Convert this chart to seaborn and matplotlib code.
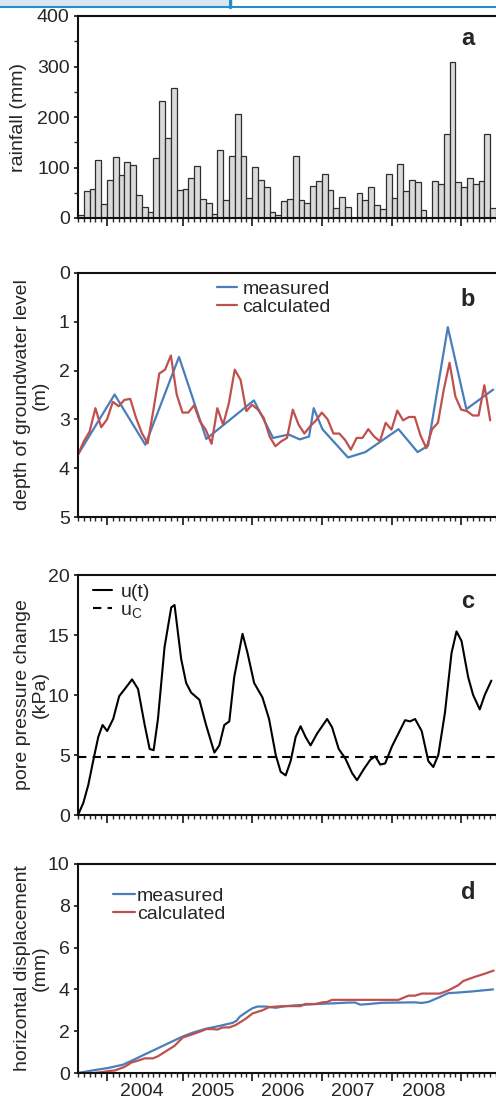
import numpy as np
import pandas as pd
import matplotlib.pyplot as plt
from matplotlib.patches import Rectangle
from matplotlib.lines import Line2D
import seaborn as sns

# monthly rainfall, Aug 2003 - Jul 2009 (mm)
rainfall = [5, 53, 57, 115, 27, 75, 120, 85, 110, 104, 45, 22,
            11, 119, 232, 159, 258, 55, 57, 79, 103, 37, 30, 7,
            135, 36, 123, 206, 123, 40, 101, 75, 62, 12, 5, 33,
            38, 122, 36, 30, 64, 73, 88, 55, 20, 42, 22, 0,
            50, 36, 62, 25, 18, 87, 40, 107, 53, 76, 71, 16,
            0, 74, 67, 167, 309, 71, 61, 79, 68, 73, 166, 20]
rain_month = np.arange(len(rainfall)) + 0.5

# groundwater depth (m)
gw_meas_t = [0, 6.3, 11.6, 17.4, 22.1, 30.3, 33.6, 36.3, 38.2, 39.8, 40.6, 42.1,
             46.5, 49.5, 55.2, 58.5, 60.3, 63.7, 66.9, 71.5]
gw_meas = [3.72, 2.49, 3.52, 1.72, 3.40, 2.61, 3.38, 3.31, 3.41, 3.35, 2.77, 3.20,
           3.78, 3.67, 3.20, 3.67, 3.54, 1.11, 2.79, 2.39]
gw_calc = [3.72, 3.45, 3.25, 2.77, 3.16, 3.00, 2.64, 2.73, 2.60, 2.58, 2.97, 3.28,
           3.49, 2.80, 2.06, 1.98, 1.69, 2.49, 2.86, 2.86, 2.71, 3.04, 3.21, 3.50,
           2.77, 3.11, 2.66, 1.98, 2.19, 2.83, 2.70, 2.80, 2.97, 3.35, 3.55, 3.45,
           3.38, 2.80, 3.11, 3.29, 3.14, 3.02, 2.86, 3.00, 3.29, 3.29, 3.42, 3.62,
           3.38, 3.38, 3.20, 3.35, 3.45, 3.07, 3.21, 2.82, 3.02, 2.95, 2.95, 3.33,
           3.59, 3.20, 3.07, 2.39, 1.84, 2.53, 2.80, 2.83, 2.92, 2.92, 2.30, 3.02]
gw_calc_t = np.arange(len(gw_calc))

# pore pressure change u(t) (kPa)
pp_t = [0, 0.91, 1.77, 2.74, 3.49, 4.23, 5.03, 6.06, 7.09, 8.06, 9.31, 10.34,
        11.49, 12.34, 13.03, 13.77, 14.91, 16.06, 16.63, 17.77, 18.63, 19.49, 20.91, 22.06,
        23.49, 24.34, 25.2, 26.06, 26.91, 28.34, 29.2, 30.34, 31.77, 32.91, 34.06, 34.91,
        35.77, 36.63, 37.49, 38.34, 39.2, 40.06, 41.2, 42.91, 43.77, 44.91, 46.06, 47.2,
        48.06, 49.2, 50.34, 51.2, 52.06, 52.91, 54.06, 55.2, 56.34, 57.2, 58.06, 59.2,
        60.34, 61.2, 62.06, 63.2, 64.34, 65.2, 66.06, 67.2, 68.06, 69.2, 70.06, 71.2]
pp = [0, 1, 2.5, 4.8, 6.5, 7.5, 7.0, 8.0, 9.9, 10.5, 11.3, 10.5,
      7.5, 5.5, 5.4, 8.0, 14, 17.3, 17.5, 13, 11, 10.2, 9.6, 7.5,
      5.2, 5.8, 7.5, 7.8, 11.5, 15.1, 13.5, 11, 9.8, 8.0, 5.0, 3.6,
      3.3, 4.5, 6.5, 7.4, 6.5, 5.8, 6.8, 8.0, 7.3, 5.5, 4.7, 3.5,
      2.9, 3.8, 4.6, 4.9, 4.2, 4.3, 5.7, 6.8, 7.9, 7.8, 8.0, 7.0,
      4.5, 4.0, 5.0, 8.5, 13.5, 15.3, 14.5, 11.5, 10, 8.8, 10, 11.2]
u_c = 4.85

# horizontal displacement (mm)
disp_meas_t = [0, 2.63, 5.2, 7.77, 9.49, 11.2, 13.49, 15.77, 18.06, 19.77, 22.06, 24.34,
               26.63, 27.31, 27.89, 29.2, 30.06, 30.91, 32.34, 34.06, 35.77, 38.06, 40.91, 43.77,
               46.63, 47.77, 48.63, 50.06, 52.34, 55.2, 58.06, 59.2, 60.34, 62.06, 63.77, 65.49,
               67.77, 71.5]
disp_meas = [0, 0.13, 0.24, 0.4, 0.62, 0.85, 1.15, 1.45, 1.75, 1.93, 2.12, 2.25,
             2.4, 2.5, 2.7, 2.95, 3.1, 3.18, 3.18, 3.12, 3.2, 3.25, 3.3, 3.33,
             3.37, 3.37, 3.27, 3.3, 3.36, 3.37, 3.38, 3.35, 3.4, 3.6, 3.82, 3.85,
             3.9, 4.0]
disp_calc_t = [0, 2.63, 4.34, 5.49, 6.34, 8.06, 9.2, 10.63, 11.49, 12.91, 13.77, 15.2,
               16.63, 18.06, 19.49, 21.2, 22.06, 23.2, 24.06, 24.91, 26.06, 27.2, 28.91, 30.06,
               31.77, 32.91, 35.2, 36.91, 38.34, 39.2, 40.91, 42.06, 42.91, 43.77, 55.2, 56.91,
               58.06, 59.2, 62.34, 63.77, 65.49, 66.34, 68.34, 70.06, 71.6]
disp_calc = [0, 0, 0.05, 0.1, 0.12, 0.3, 0.5, 0.62, 0.7, 0.7, 0.8, 1.05,
             1.3, 1.7, 1.83, 2.0, 2.1, 2.1, 2.08, 2.18, 2.18, 2.3, 2.6, 2.85,
             3.0, 3.15, 3.2, 3.2, 3.2, 3.3, 3.3, 3.38, 3.4, 3.5, 3.5, 3.7,
             3.7, 3.8, 3.8, 3.95, 4.2, 4.4, 4.6, 4.75, 4.9]

years = ['2004', '2005', '2006', '2007', '2008']
year_ticks = [5, 18, 30, 42, 54, 66]
year_label_pos = [11, 23.2, 35.3, 47.4, 59.5]

blue = '#4a7ebb'
red = '#c0504d'

sns.set_style('ticks')
plt.rcParams['font.family'] = ['Liberation Sans', 'DejaVu Sans']
plt.rcParams['mathtext.fontset'] = 'custom'
plt.rcParams['mathtext.rm'] = 'Liberation Sans'
plt.rcParams['mathtext.it'] = 'Liberation Sans'
fs = 14

fig = plt.figure(figsize=(4.96, 11.02), dpi=100)

# header strip from the web page
W, H = 496, 1102
fig.patches.append(Rectangle((0, 1 - 6 / H), 228 / W, 6 / H, transform=fig.transFigure,
                             facecolor='#d8e7f4', edgecolor='none'))
fig.add_artist(Line2D([0, 1], [1 - 6.5 / H] * 2, color='#2a8cc4', lw=1.5))
fig.add_artist(Line2D([229.5 / W] * 2, [1, 1 - 7 / H], color='#2a8cc4', lw=2.5))

left, width = 78 / W, 418 / W
rects = [(218, 202), (517, 244), (815, 240), (1073, 209)]
axes = [fig.add_axes([left, 1 - b / H, width, h / H]) for b, h in rects]


def style_axis(ax, show_years=False):
    ax.set_xlim(0, 72)
    ax.spines['right'].set_visible(False)
    for s in ['left', 'top', 'bottom']:
        ax.spines[s].set_linewidth(1.5)
        ax.spines[s].set_color('#111111')
    ax.set_xticks(year_ticks)
    ax.set_xticklabels([])
    ax.set_xticks(np.arange(0, 73), minor=True)
    ax.tick_params(axis='x', which='major', length=6, width=1.3, direction='out')
    ax.tick_params(axis='x', which='minor', length=3, width=1.0, direction='out')
    ax.tick_params(axis='y', which='major', length=3, width=1.3, pad=3, labelsize=fs)
    ax.set_xlabel('')
    if show_years:
        for pos, yr in zip(year_label_pos, years):
            ax.text(pos, -0.09, yr, transform=ax.get_xaxis_transform(),
                    ha='center', va='center', fontsize=fs)


# a: rainfall
ax = axes[0]
sns.barplot(x=rain_month, y=rainfall, native_scale=True, width=1, errorbar=None,
            color='#dadada', saturation=1, edgecolor='#2e2e2e', linewidth=0.9, ax=ax)
style_axis(ax)
ax.set_ylim(0, 400)
ax.set_yticks([0, 100, 200, 300, 400])
ax.set_yticks([50, 150, 250, 350], minor=True)
ax.tick_params(axis='y', which='minor', length=3, width=1.0)
ax.set_ylabel('rainfall (mm)', fontsize=fs)
ax.yaxis.set_label_coords(-0.122, 0.5)
ax.text(0.933, 0.89, 'a', transform=ax.transAxes, ha='center', va='center',
        fontsize=17, fontweight='bold')

# b: groundwater level
ax = axes[1]
sns.lineplot(x=gw_meas_t, y=gw_meas, color=blue, lw=1.6, label='measured', ax=ax)
sns.lineplot(x=gw_calc_t, y=gw_calc, color=red, lw=1.6, label='calculated', ax=ax)
style_axis(ax)
ax.set_ylim(5, 0)
ax.set_yticks([0, 1, 2, 3, 4, 5])
ax.set_ylabel('depth of groundwater level\n(m)', fontsize=fs, linespacing=1.05)
ax.yaxis.set_label_coords(-0.07, 0.5)
ax.legend(loc='upper left', bbox_to_anchor=(0.333, 0.97), frameon=False, fontsize=fs,
          borderpad=0, borderaxespad=0, handlelength=1.0, handletextpad=0.3,
          labelspacing=0.02)
ax.text(0.933, 0.893, 'b', transform=ax.transAxes, ha='center', va='center',
        fontsize=17, fontweight='bold')

# c: pore pressure
ax = axes[2]
sns.lineplot(x=pp_t, y=pp, color='black', lw=1.5, label='u(t)', ax=ax)
ax.axhline(u_c, color='black', lw=1.5, ls=(0, (4, 3)), label='u$_\\mathrm{C}$')
style_axis(ax)
ax.set_ylim(0, 20)
ax.set_yticks([0, 5, 10, 15, 20])
ax.set_ylabel('pore pressure change\n(kPa)', fontsize=fs, linespacing=1.05)
ax.yaxis.set_label_coords(-0.07, 0.5)
ax.legend(loc='upper left', bbox_to_anchor=(0.036, 0.965), frameon=False, fontsize=fs,
          borderpad=0, borderaxespad=0, handlelength=1.0, handletextpad=0.4,
          labelspacing=0.02)
ax.text(0.933, 0.89, 'c', transform=ax.transAxes, ha='center', va='center',
        fontsize=17, fontweight='bold')

# d: horizontal displacement
ax = axes[3]
sns.lineplot(x=disp_meas_t, y=disp_meas, color=blue, lw=1.6, label='measured', ax=ax)
sns.lineplot(x=disp_calc_t, y=disp_calc, color=red, lw=1.6, label='calculated', ax=ax)
style_axis(ax, show_years=True)
ax.set_ylim(0, 10)
ax.set_yticks([0, 2, 4, 6, 8, 10])
ax.set_ylabel('horizontal displacement\n(mm)', fontsize=fs, linespacing=1.05)
ax.yaxis.set_label_coords(-0.07, 0.5)
ax.legend(loc='upper left', bbox_to_anchor=(0.084, 0.89), frameon=False, fontsize=fs,
          borderpad=0, borderaxespad=0, handlelength=1.1, handletextpad=0.12,
          labelspacing=0.02)
ax.text(0.933, 0.866, 'd', transform=ax.transAxes, ha='center', va='center',
        fontsize=17, fontweight='bold')

fig.savefig('out.png', dpi=100)
